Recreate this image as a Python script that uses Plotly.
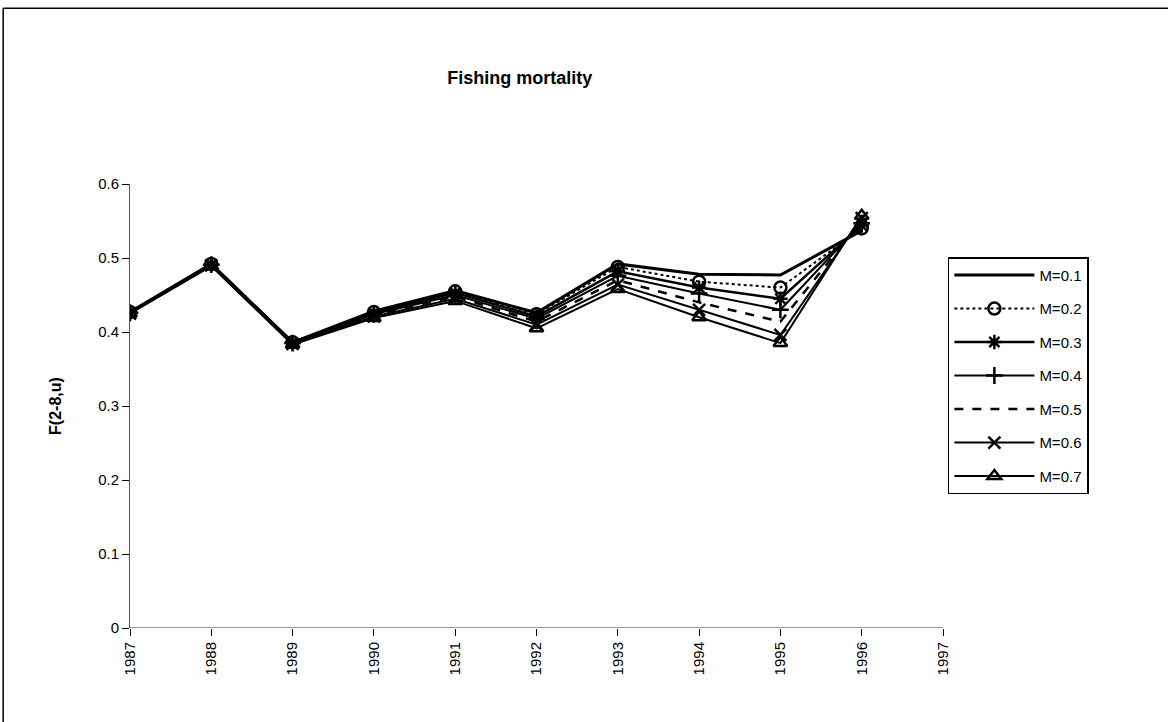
import plotly.graph_objects as go

years = [1987, 1988, 1989, 1990, 1991, 1992, 1993, 1994, 1995, 1996]

f_m01 = [0.427, 0.492, 0.386, 0.428, 0.456, 0.426, 0.492, 0.478, 0.477, 0.537]
f_m02 = [0.427, 0.492, 0.386, 0.427, 0.455, 0.424, 0.488, 0.468, 0.460, 0.540]
f_m03 = [0.426, 0.491, 0.386, 0.426, 0.453, 0.421, 0.482, 0.460, 0.445, 0.544]
f_m04 = [0.426, 0.491, 0.385, 0.424, 0.450, 0.418, 0.476, 0.452, 0.430, 0.547]
f_m05 = [0.426, 0.490, 0.385, 0.423, 0.448, 0.414, 0.470, 0.440, 0.414, 0.550]
f_m06 = [0.425, 0.490, 0.384, 0.421, 0.445, 0.410, 0.464, 0.430, 0.396, 0.554]
f_m07 = [0.425, 0.489, 0.383, 0.419, 0.442, 0.405, 0.458, 0.420, 0.385, 0.557]

series = [
    ("M=0.1", f_m01, "solid", None, 3),
    ("M=0.2", f_m02, "dot", "circle-open", 2),
    ("M=0.3", f_m03, "solid", "asterisk-open", 2.5),
    ("M=0.4", f_m04, "solid", "cross-thin-open", 2),
    ("M=0.5", f_m05, "dash", None, 2.5),
    ("M=0.6", f_m06, "solid", "x-thin-open", 2),
    ("M=0.7", f_m07, "solid", "triangle-up-open", 2),
]

fig = go.Figure()
for name, vals, dash, symbol, width in series:
    fig.add_trace(go.Scatter(
        x=years, y=vals, name=name, legendgroup=name,
        mode="lines+markers" if symbol else "lines",
        line=dict(color="black", width=width, dash=dash),
        marker=dict(symbol=symbol or "circle", size=12, color="black",
                    line=dict(color="black", width=2.5)),
    ))

fig.update_layout(
    width=1168, height=722,
    paper_bgcolor="white", plot_bgcolor="white",
    font=dict(family="Liberation Sans, Arial, sans-serif", size=15, color="black"),
    title=dict(text="<b>Fishing mortality</b>", x=0.445, xanchor="center",
               y=0.892, yanchor="middle", font=dict(size=18)),
    margin=dict(l=130, r=225, t=184, b=94),
    legend=dict(x=1.006, y=0.835, xanchor="left", yanchor="top",
                bordercolor="black", borderwidth=1.5,
                font=dict(size=15), itemwidth=80, tracegroupgap=11),
    showlegend=True,
    # page frame: only top and left edges are visible in the scan
    shapes=[
        dict(type="line", xref="paper", yref="paper",
             x0=-0.156, x1=1.3, y0=1.396, y1=1.396,
             line=dict(color="black", width=1.5)),
        dict(type="line", xref="paper", yref="paper",
             x0=-0.156, x1=-0.156, y0=-0.25, y1=1.396,
             line=dict(color="black", width=1.5)),
    ],
)

fig.update_xaxes(
    range=[1987, 1997], tickmode="linear", tick0=1987, dtick=1,
    tickangle=-90, showgrid=False, zeroline=False,
    showline=False, ticks="outside", ticklen=7, tickcolor="black",
    tickfont=dict(size=15),
)
fig.update_yaxes(
    title=dict(text="<b>F(2-8,u)</b>", font=dict(size=16), standoff=32),
    range=[0, 0.6], dtick=0.1, tickformat=".1~f",
    showgrid=False, zeroline=False,
    showline=True, linecolor="#555", linewidth=1,
    ticks="outside", ticklen=7, tickcolor="black",
    tickfont=dict(size=15),
)
# x axis line at y=0
fig.add_hline(y=0, line=dict(color="#777", width=1.5))

fig.write_html("out.html", config={"displayModeBar": False},
               post_script="document.body.style.margin='0';")
